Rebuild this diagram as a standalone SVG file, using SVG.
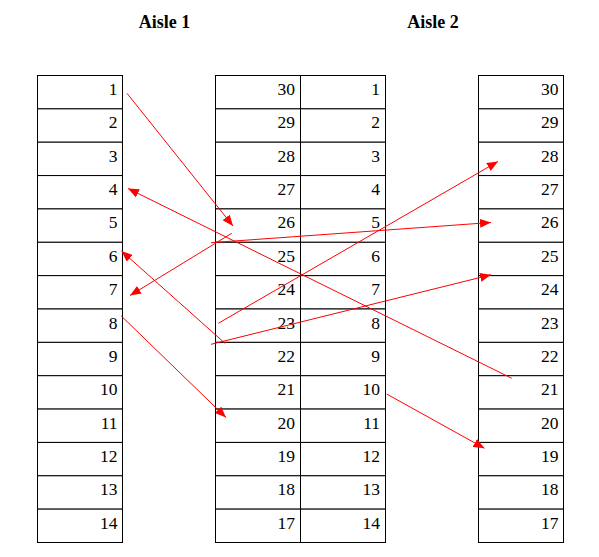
<svg xmlns="http://www.w3.org/2000/svg" width="599" height="557" viewBox="0 0 599 557">
<style>
.c{fill:#fff;stroke:#000;stroke-width:1}
.n{font-family:"Liberation Serif","Times New Roman",serif;font-size:17.5px;fill:#000;text-anchor:end}
.t{font-family:"Liberation Serif","Times New Roman",serif;font-size:18px;font-weight:bold;fill:#000;text-anchor:middle}
.a{stroke:#ff0000;stroke-width:1;fill:none;marker-end:url(#ah)}
</style>
<defs>
<marker id="ah" markerUnits="userSpaceOnUse" markerWidth="11" markerHeight="9" refX="11" refY="4.5" orient="auto">
<path d="M0,0 L11,4.5 L0,9 z" fill="#ff0000"/>
</marker>
</defs>
<rect width="599" height="557" fill="#fff"/>
<g id="titles">
<text class="t" x="164.5" y="28">Aisle 1</text>
<text class="t" x="433" y="28">Aisle 2</text>
</g>
<g id="aisle1-left">
<g id="L1"><rect class="c" x="37.5" y="75.5" width="85" height="33.36"/><text class="n" x="117.5" y="95">1</text></g>
<g id="L2"><rect class="c" x="37.5" y="108.86" width="85" height="33.36"/><text class="n" x="117.5" y="128.4">2</text></g>
<g id="L3"><rect class="c" x="37.5" y="142.21" width="85" height="33.36"/><text class="n" x="117.5" y="161.7">3</text></g>
<g id="L4"><rect class="c" x="37.5" y="175.57" width="85" height="33.36"/><text class="n" x="117.5" y="195.1">4</text></g>
<g id="L5"><rect class="c" x="37.5" y="208.93" width="85" height="33.36"/><text class="n" x="117.5" y="228.4">5</text></g>
<g id="L6"><rect class="c" x="37.5" y="242.29" width="85" height="33.36"/><text class="n" x="117.5" y="261.8">6</text></g>
<g id="L7"><rect class="c" x="37.5" y="275.64" width="85" height="33.36"/><text class="n" x="117.5" y="295.1">7</text></g>
<g id="L8"><rect class="c" x="37.5" y="309" width="85" height="33.36"/><text class="n" x="117.5" y="328.5">8</text></g>
<g id="L9"><rect class="c" x="37.5" y="342.36" width="85" height="33.36"/><text class="n" x="117.5" y="361.9">9</text></g>
<g id="L10"><rect class="c" x="37.5" y="375.71" width="85" height="33.36"/><text class="n" x="117.5" y="395.2">10</text></g>
<g id="L11"><rect class="c" x="37.5" y="409.07" width="85" height="33.36"/><text class="n" x="117.5" y="428.6">11</text></g>
<g id="L12"><rect class="c" x="37.5" y="442.43" width="85" height="33.36"/><text class="n" x="117.5" y="461.9">12</text></g>
<g id="L13"><rect class="c" x="37.5" y="475.79" width="85" height="33.36"/><text class="n" x="117.5" y="495.3">13</text></g>
<g id="L14"><rect class="c" x="37.5" y="509.14" width="85" height="33.36"/><text class="n" x="117.5" y="528.6">14</text></g>
</g>
<g id="aisle1-right">
<g id="MA30"><rect class="c" x="215.5" y="75.5" width="85" height="33.36"/><text class="n" x="295" y="95">30</text></g>
<g id="MA29"><rect class="c" x="215.5" y="108.86" width="85" height="33.36"/><text class="n" x="295" y="128.4">29</text></g>
<g id="MA28"><rect class="c" x="215.5" y="142.21" width="85" height="33.36"/><text class="n" x="295" y="161.7">28</text></g>
<g id="MA27"><rect class="c" x="215.5" y="175.57" width="85" height="33.36"/><text class="n" x="295" y="195.1">27</text></g>
<g id="MA26"><rect class="c" x="215.5" y="208.93" width="85" height="33.36"/><text class="n" x="295" y="228.4">26</text></g>
<g id="MA25"><rect class="c" x="215.5" y="242.29" width="85" height="33.36"/><text class="n" x="295" y="261.8">25</text></g>
<g id="MA24"><rect class="c" x="215.5" y="275.64" width="85" height="33.36"/><text class="n" x="295" y="295.1">24</text></g>
<g id="MA23"><rect class="c" x="215.5" y="309" width="85" height="33.36"/><text class="n" x="295" y="328.5">23</text></g>
<g id="MA22"><rect class="c" x="215.5" y="342.36" width="85" height="33.36"/><text class="n" x="295" y="361.9">22</text></g>
<g id="MA21"><rect class="c" x="215.5" y="375.71" width="85" height="33.36"/><text class="n" x="295" y="395.2">21</text></g>
<g id="MA20"><rect class="c" x="215.5" y="409.07" width="85" height="33.36"/><text class="n" x="295" y="428.6">20</text></g>
<g id="MA19"><rect class="c" x="215.5" y="442.43" width="85" height="33.36"/><text class="n" x="295" y="461.9">19</text></g>
<g id="MA18"><rect class="c" x="215.5" y="475.79" width="85" height="33.36"/><text class="n" x="295" y="495.3">18</text></g>
<g id="MA17"><rect class="c" x="215.5" y="509.14" width="85" height="33.36"/><text class="n" x="295" y="528.6">17</text></g>
</g>
<g id="aisle2-left">
<g id="MB1"><rect class="c" x="300.5" y="75.5" width="85" height="33.36"/><text class="n" x="380" y="95">1</text></g>
<g id="MB2"><rect class="c" x="300.5" y="108.86" width="85" height="33.36"/><text class="n" x="380" y="128.4">2</text></g>
<g id="MB3"><rect class="c" x="300.5" y="142.21" width="85" height="33.36"/><text class="n" x="380" y="161.7">3</text></g>
<g id="MB4"><rect class="c" x="300.5" y="175.57" width="85" height="33.36"/><text class="n" x="380" y="195.1">4</text></g>
<g id="MB5"><rect class="c" x="300.5" y="208.93" width="85" height="33.36"/><text class="n" x="380" y="228.4">5</text></g>
<g id="MB6"><rect class="c" x="300.5" y="242.29" width="85" height="33.36"/><text class="n" x="380" y="261.8">6</text></g>
<g id="MB7"><rect class="c" x="300.5" y="275.64" width="85" height="33.36"/><text class="n" x="380" y="295.1">7</text></g>
<g id="MB8"><rect class="c" x="300.5" y="309" width="85" height="33.36"/><text class="n" x="380" y="328.5">8</text></g>
<g id="MB9"><rect class="c" x="300.5" y="342.36" width="85" height="33.36"/><text class="n" x="380" y="361.9">9</text></g>
<g id="MB10"><rect class="c" x="300.5" y="375.71" width="85" height="33.36"/><text class="n" x="380" y="395.2">10</text></g>
<g id="MB11"><rect class="c" x="300.5" y="409.07" width="85" height="33.36"/><text class="n" x="380" y="428.6">11</text></g>
<g id="MB12"><rect class="c" x="300.5" y="442.43" width="85" height="33.36"/><text class="n" x="380" y="461.9">12</text></g>
<g id="MB13"><rect class="c" x="300.5" y="475.79" width="85" height="33.36"/><text class="n" x="380" y="495.3">13</text></g>
<g id="MB14"><rect class="c" x="300.5" y="509.14" width="85" height="33.36"/><text class="n" x="380" y="528.6">14</text></g>
</g>
<g id="aisle2-right">
<g id="R30"><rect class="c" x="478.5" y="75.5" width="85" height="33.36"/><text class="n" x="558.5" y="95">30</text></g>
<g id="R29"><rect class="c" x="478.5" y="108.86" width="85" height="33.36"/><text class="n" x="558.5" y="128.4">29</text></g>
<g id="R28"><rect class="c" x="478.5" y="142.21" width="85" height="33.36"/><text class="n" x="558.5" y="161.7">28</text></g>
<g id="R27"><rect class="c" x="478.5" y="175.57" width="85" height="33.36"/><text class="n" x="558.5" y="195.1">27</text></g>
<g id="R26"><rect class="c" x="478.5" y="208.93" width="85" height="33.36"/><text class="n" x="558.5" y="228.4">26</text></g>
<g id="R25"><rect class="c" x="478.5" y="242.29" width="85" height="33.36"/><text class="n" x="558.5" y="261.8">25</text></g>
<g id="R24"><rect class="c" x="478.5" y="275.64" width="85" height="33.36"/><text class="n" x="558.5" y="295.1">24</text></g>
<g id="R23"><rect class="c" x="478.5" y="309" width="85" height="33.36"/><text class="n" x="558.5" y="328.5">23</text></g>
<g id="R22"><rect class="c" x="478.5" y="342.36" width="85" height="33.36"/><text class="n" x="558.5" y="361.9">22</text></g>
<g id="R21"><rect class="c" x="478.5" y="375.71" width="85" height="33.36"/><text class="n" x="558.5" y="395.2">21</text></g>
<g id="R20"><rect class="c" x="478.5" y="409.07" width="85" height="33.36"/><text class="n" x="558.5" y="428.6">20</text></g>
<g id="R19"><rect class="c" x="478.5" y="442.43" width="85" height="33.36"/><text class="n" x="558.5" y="461.9">19</text></g>
<g id="R18"><rect class="c" x="478.5" y="475.79" width="85" height="33.36"/><text class="n" x="558.5" y="495.3">18</text></g>
<g id="R17"><rect class="c" x="478.5" y="509.14" width="85" height="33.36"/><text class="n" x="558.5" y="528.6">17</text></g>
</g>
<g id="connectors">
<line class="a" x1="127" y1="93.3" x2="233" y2="226"/>
<line class="a" x1="511.7" y1="378.3" x2="128" y2="188.5"/>
<line class="a" x1="231.7" y1="233.3" x2="130" y2="295.5"/>
<line class="a" x1="211" y1="242.7" x2="491" y2="222.5"/>
<line class="a" x1="218.3" y1="323.3" x2="498" y2="161.5"/>
<line class="a" x1="211" y1="344.3" x2="491" y2="274.8"/>
<line class="a" x1="225" y1="343.3" x2="121.5" y2="251"/>
<line class="a" x1="121" y1="315.7" x2="226" y2="417.5"/>
<line class="a" x1="386.7" y1="394" x2="484.5" y2="448.3"/>
</g>
</svg>
